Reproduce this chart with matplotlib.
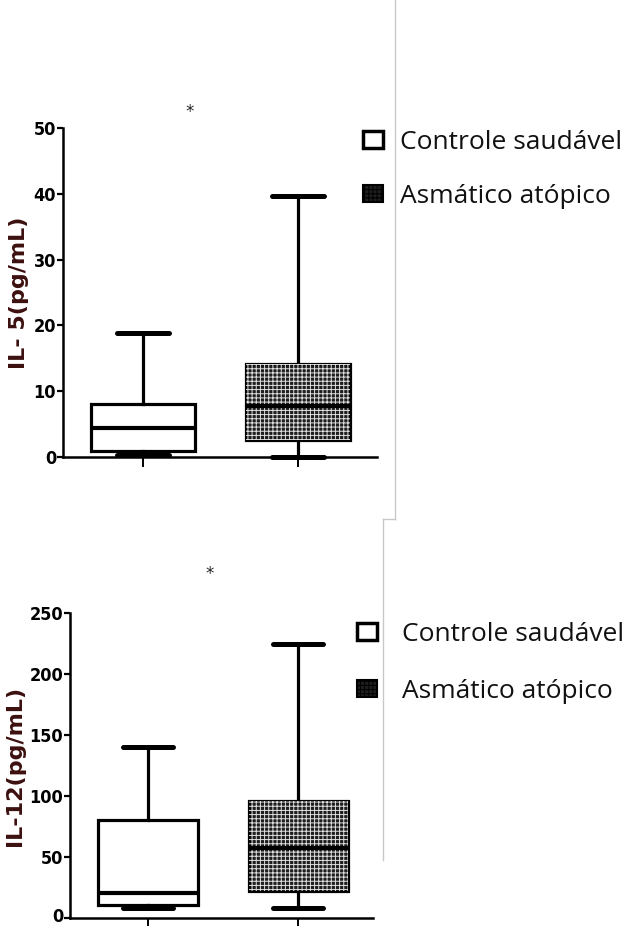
import matplotlib
matplotlib.use("Agg")
import matplotlib.pyplot as plt
import matplotlib.transforms as mtransforms
from matplotlib.patches import Patch, Rectangle
from matplotlib.lines import Line2D

# ── data ────────────────────────────────────────────────────
groups = ["Controle saudável", "Asmático atópico"]

il5_min = [0.3, 0.0]
il5_q1 = [0.9, 2.6]
il5_med = [4.4, 7.8]
il5_q3 = [8.1, 14.1]
il5_max = [18.9, 39.6]
il5_ticks = [0, 10, 20, 30, 40, 50]

il12_min = [8.2, 8.2]
il12_q1 = [10.4, 21.9]
il12_med = [20.8, 57.0]
il12_q3 = [80.2, 96.0]
il12_max = [140.5, 224.5]
il12_ticks = [0, 50, 100, 150, 200, 250]

W, H = 633, 926
LABEL_COL = "#3d1010"
DARK = "#1e1e1e"
plt.rcParams["hatch.linewidth"] = 0.7


def stats(lo, q1, med, q3, hi):
    return [dict(whislo=a, q1=b, med=c, q3=d, whishi=e, fliers=[])
            for a, b, c, d, e in zip(lo, q1, med, q3, hi)]


def panel(rect, st, ticks, ylabel, xlim, width):
    ax = fig.add_axes([rect[0] / W, 1 - rect[3] / H,
                       (rect[2] - rect[0]) / W, (rect[3] - rect[1]) / H])
    bp = ax.bxp(st, positions=[1, 2], widths=width, patch_artist=True,
                showfliers=False,
                boxprops=dict(linewidth=2.3, edgecolor="black", facecolor="white"),
                whiskerprops=dict(linewidth=2.3, color="black"),
                capprops=dict(linewidth=3.6, color="black", solid_capstyle="round"),
                medianprops=dict(linewidth=3.0, color="black"))
    # checkered fill for second group
    b = st[1]
    bp["boxes"][1].set_facecolor(DARK)
    ax.add_patch(Rectangle((2 - width / 2, b["q1"]), width, b["q3"] - b["q1"],
                           fill=False, hatch="++++", edgecolor="#e0e0e0",
                           linewidth=0, zorder=2.05))
    for ln in bp["medians"]:
        ln.set_zorder(3)
    ax.set_xlim(*xlim)
    ax.set_ylim(ticks[0], ticks[-1])
    ax.set_yticks(ticks)
    ax.set_xticks([1, 2])
    ax.set_xticklabels([])
    for s in ["top", "right"]:
        ax.spines[s].set_visible(False)
    ax.spines["left"].set_linewidth(1.8)
    ax.spines["bottom"].set_linewidth(1.8)
    ax.tick_params(axis="y", length=4, width=1.6, pad=1)
    ax.tick_params(axis="x", length=7, width=1.4, direction="out")
    for t in ax.get_yticklabels():
        t.set_fontfamily("DejaVu Sans")
        t.set_fontstretch("condensed")
        t.set_fontweight("bold")
        t.set_fontsize(13)
    ax.set_ylabel(ylabel, fontsize=16, fontweight="bold", color=LABEL_COL,
                  family="DejaVu Sans", labelpad=3)
    for art in ax.get_children():
        if hasattr(art, "set_clip_on"):
            art.set_clip_on(False)
    return ax


fig = plt.figure(figsize=(W / 100, H / 100), dpi=100)

ax1 = panel((63, 128, 377, 457), stats(il5_min, il5_q1, il5_med, il5_q3, il5_max),
            il5_ticks, "IL- 5(pg/mL)", (0.484, 2.51), 0.67)
ax2 = panel((70, 613, 373, 918), stats(il12_min, il12_q1, il12_med, il12_q3, il12_max),
            il12_ticks, "IL-12(pg/mL)", (0.48, 2.5), 0.66)

# bottom "0" sits on the page edge: lift it a touch so it isn't cut
lift = mtransforms.ScaledTranslation(0, 3 / 100, fig.dpi_scale_trans)
for tk in ax2.yaxis.get_major_ticks()[:1]:
    tk.label1.set_transform(tk.label1.get_transform() + lift)

# significance marks
fig.text(190 / W, 1 - 112 / H, "*", fontsize=12, ha="center", va="center", color="#222222")
fig.text(210 / W, 1 - 574 / H, "*", fontsize=12, ha="center", va="center", color="#222222")

# legends
for ax, anchor, pad, spacing in [(ax1, (363 / W, 1 - 130 / H), 0.65, 1.1),
                                 (ax2, (357 / W, 1 - 622 / H), 0.95, 1.2)]:
    leg = ax.legend([Patch(facecolor="white", edgecolor="black", linewidth=2.5),
                     Patch(facecolor=DARK, edgecolor="black", linewidth=1.5,
                           hatch="++++")],
                    groups, loc="upper left", bbox_to_anchor=anchor,
                    bbox_transform=fig.transFigure, frameon=False,
                    prop={"family": ["Open Sans", "DejaVu Sans"], "size": 19},
                    handletextpad=pad, handlelength=0.75, handleheight=0.6,
                    labelspacing=spacing, borderpad=0, borderaxespad=0)
    for t in leg.get_texts():
        t.set_color("#111111")

# thin grey frame lines at right
grey = dict(color="#c8c8c8", linewidth=1.0, transform=fig.transFigure)
fig.add_artist(Line2D([395 / W, 395 / W], [1, 1 - 519 / H], **grey))
fig.add_artist(Line2D([383 / W, 395 / W], [1 - 519 / H, 1 - 519 / H], **grey))
fig.add_artist(Line2D([383 / W, 383 / W], [1 - 519 / H, 1 - 860 / H], **grey))

fig.savefig("out.png", dpi=100)
